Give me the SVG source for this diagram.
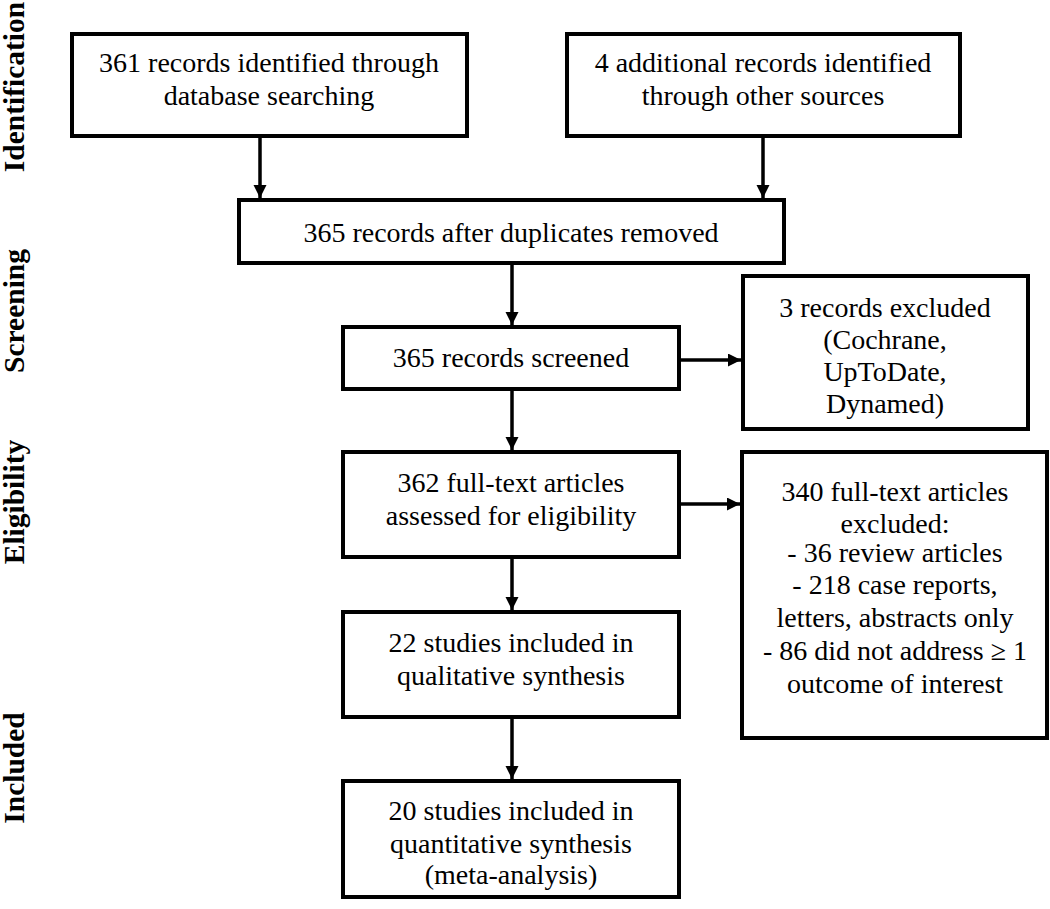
<svg xmlns="http://www.w3.org/2000/svg" width="1050" height="909" viewBox="0 0 1050 909">
<style>
.box{fill:#fff;stroke:#000;stroke-width:4}
.t{font-family:"Liberation Serif","Times New Roman",serif;font-size:28px;fill:#000;text-anchor:middle}
.lab{font-family:"Liberation Serif","Times New Roman",serif;font-size:29.5px;font-weight:bold;fill:#000;text-anchor:middle}
.c{stroke:#000;stroke-width:3.5;fill:none}
</style>
<defs>
<marker id="ah" markerUnits="userSpaceOnUse" markerWidth="14" markerHeight="14" refX="13" refY="6.5" orient="auto">
<path d="M0,0 L13,6.5 L0,13 z" fill="#000"/>
</marker>
</defs>
<rect width="1050" height="909" fill="#fff"/>
<g id="labels">
<text class="lab" transform="translate(24,87) rotate(-90)">Identification</text>
<text class="lab" transform="translate(24,311) rotate(-90)">Screening</text>
<text class="lab" transform="translate(24,502) rotate(-90)">Eligibility</text>
<text class="lab" transform="translate(24,768) rotate(-90)">Included</text>
</g>
<g id="connectors">
<line class="c" x1="260" y1="136" x2="260" y2="198" marker-end="url(#ah)"/>
<line class="c" x1="763" y1="136" x2="763" y2="198" marker-end="url(#ah)"/>
<line class="c" x1="512" y1="263" x2="512" y2="325" marker-end="url(#ah)"/>
<line class="c" x1="679" y1="360" x2="741" y2="360" marker-end="url(#ah)"/>
<line class="c" x1="512" y1="389" x2="512" y2="450" marker-end="url(#ah)"/>
<line class="c" x1="679" y1="504" x2="740" y2="504" marker-end="url(#ah)"/>
<line class="c" x1="512" y1="557" x2="512" y2="610" marker-end="url(#ah)"/>
<line class="c" x1="512" y1="717" x2="512" y2="779" marker-end="url(#ah)"/>
</g>
<g id="n1">
<rect class="box" x="72" y="34" width="395" height="102"/>
<text class="t" x="269" y="72">361 records identified through</text>
<text class="t" x="269" y="105">database searching</text>
</g>
<g id="n2">
<rect class="box" x="567" y="34" width="393" height="102"/>
<text class="t" x="763" y="72">4 additional records identified</text>
<text class="t" x="763" y="105">through other sources</text>
</g>
<g id="n3">
<rect class="box" x="239" y="200" width="545" height="63"/>
<text class="t" x="511" y="242">365 records after duplicates removed</text>
</g>
<g id="n4">
<rect class="box" x="343" y="327" width="336" height="62"/>
<text class="t" x="511" y="367">365 records screened</text>
</g>
<g id="n5">
<rect class="box" x="743" y="276" width="285" height="153"/>
<text class="t" x="885" y="317">3 records excluded</text>
<text class="t" x="885" y="349">(Cochrane,</text>
<text class="t" x="885" y="381">UpToDate,</text>
<text class="t" x="885" y="413">Dynamed)</text>
</g>
<g id="n6">
<rect class="box" x="343" y="452" width="336" height="105"/>
<text class="t" x="511" y="492">362 full-text articles</text>
<text class="t" x="511" y="525">assessed for eligibility</text>
</g>
<g id="n7">
<rect class="box" x="742" y="452" width="305" height="286"/>
<text class="t" x="895" y="501">340 full-text articles</text>
<text class="t" x="895" y="533">excluded:</text>
<text class="t" x="895" y="562">- 36 review articles</text>
<text class="t" x="895" y="594">- 218 case reports,</text>
<text class="t" x="895" y="627">letters, abstracts only</text>
<text class="t" x="895" y="660">- 86 did not address ≥ 1</text>
<text class="t" x="895" y="693">outcome of interest</text>
</g>
<g id="n8">
<rect class="box" x="343" y="612" width="336" height="105"/>
<text class="t" x="511" y="652">22 studies included in</text>
<text class="t" x="511" y="685">qualitative synthesis</text>
</g>
<g id="n9">
<rect class="box" x="343" y="781" width="336" height="116"/>
<text class="t" x="511" y="820">20 studies included in</text>
<text class="t" x="511" y="853">quantitative synthesis</text>
<text class="t" x="511" y="884">(meta-analysis)</text>
</g>
</svg>
